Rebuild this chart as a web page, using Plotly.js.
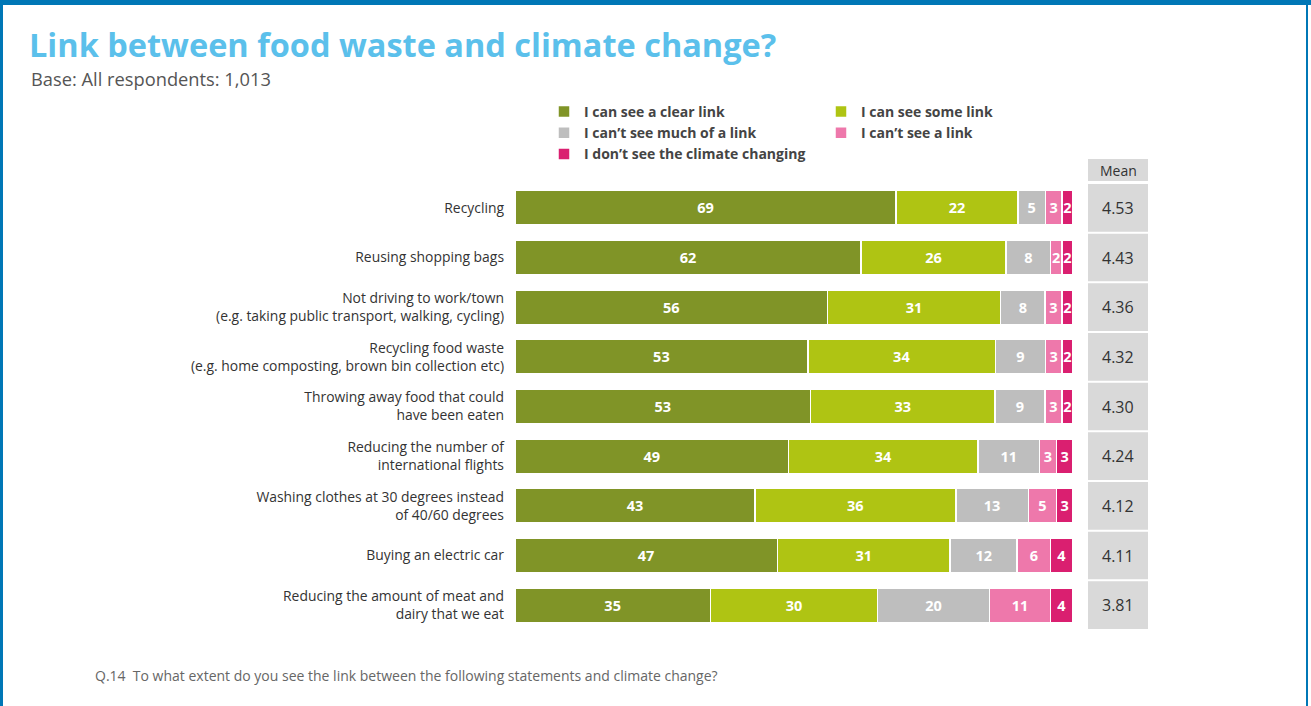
<!DOCTYPE html>
<html>
<head>
<meta charset="utf-8">
<script src="https://cdn.plot.ly/plotly-3.0.1.min.js"></script>
<style>
  html, body { margin: 0; padding: 0; background: #fff; }
  #chart { width: 1311px; height: 706px; }
  #frame { position: absolute; left: 0; top: 0; width: 1311px; height: 706px; box-sizing: border-box;
           border-top: 5px solid #0077B6; border-left: 3px solid #0077B6;
           pointer-events: none; }
  #frame-r { position: absolute; left: 1306px; top: 0; width: 2px; height: 706px; background: #0077B6; pointer-events:none; }
</style>
</head>
<body>
<div id="chart"></div>
<div id="frame"></div>
<div id="frame-r"></div>
<script>
const categories = [
  "Recycling",
  "Reusing shopping bags",
  "Not driving to work/town<br>(e.g. taking public transport, walking, cycling)",
  "Recycling food waste<br>(e.g. home composting, brown bin collection etc)",
  "Throwing away food that could<br>have been eaten",
  "Reducing the number of<br>international flights",
  "Washing clothes at 30 degrees instead<br>of 40/60 degrees",
  "Buying an electric car",
  "Reducing the amount of meat and<br>dairy that we eat"
];
const clearLink   = [69, 62, 56, 53, 53, 49, 43, 47, 35];
const someLink    = [22, 26, 31, 34, 33, 34, 36, 31, 30];
const notMuchLink = [5, 8, 8, 9, 9, 11, 13, 12, 20];
const noLink      = [3, 2, 3, 3, 3, 3, 5, 6, 11];
const noChange    = [2, 2, 2, 2, 2, 3, 3, 4, 4];
const means       = ["4.53", "4.43", "4.36", "4.32", "4.30", "4.24", "4.12", "4.11", "3.81"];
const seriesNames = ["I can see a clear link", "I can see some link", "I can\u2019t see much of a link", "I can\u2019t see a link", "I don\u2019t see the climate changing"];
const seriesColors = ["#809427", "#AFC413", "#BEBEBE", "#EE78AB", "#DA1F70"];
const seriesValues = [clearLink, someLink, notMuchLink, noLink, noChange];

const FONT = "Open Sans, Noto Sans, sans-serif";

const traces = seriesValues.map((vals, i) => ({
  type: "bar",
  orientation: "h",
  name: seriesNames[i],
  y: categories,
  x: vals,
  text: vals.map(String),
  textposition: "inside",
  insidetextanchor: "middle",
  textangle: 0,
  textfont: { color: "#ffffff", size: 14.5, family: FONT, weight: "bold" },
  marker: { color: seriesColors[i], line: { color: "#ffffff", width: 1.5 } },
  hoverinfo: "x+y+name",
  cliponaxis: false
}));

// plot geometry (pixels) used to convert to paper coords
const L = 515, R = 1073, T = 183, B = 630;
const W = R - L, H = B - T;
const px = x => (x - L) / W;
const py = y => (B - y) / H;

const shapes = [];
const annotations = [];

// Mean header box
shapes.push({ type: "rect", xref: "paper", yref: "paper", x0: px(1088), x1: px(1148), y0: py(181), y1: py(159),
  fillcolor: "#D9D9D9", line: { width: 0 }, layer: "below" });
annotations.push({ xref: "paper", yref: "paper", x: px(1118), y: py(170), text: "Mean", showarrow: false,
  font: { family: FONT, size: 14, color: "#333" }, xanchor: "center", yanchor: "middle" });

// Mean value boxes per category
categories.forEach((c, i) => {
  shapes.push({ type: "rect", xref: "paper", yref: "y", x0: px(1088), x1: px(1148), y0: i - 0.48, y1: i + 0.48,
    fillcolor: "#D9D9D9", line: { width: 0 }, layer: "below" });
  annotations.push({ xref: "paper", yref: "y", x: px(1118), y: c, text: means[i], showarrow: false,
    font: { family: FONT, size: 16, color: "#333" }, xanchor: "center", yanchor: "middle" });
});

// subtitle
annotations.push({ xref: "paper", yref: "paper", x: px(29), y: py(78), text: "Base: All respondents: 1,013",
  showarrow: false, xanchor: "left", yanchor: "middle", font: { family: FONT, size: 18.3, color: "#555" } });
// footnote
annotations.push({ xref: "paper", yref: "paper", x: px(93), y: py(675),
  text: "Q.14  To what extent do you see the link between the following statements and climate change?",
  showarrow: false, xanchor: "left", yanchor: "middle", font: { family: FONT, size: 14, color: "#666" } });

const layout = {
  width: 1311, height: 706,
  margin: { l: L, r: 1311 - R, t: T, b: 706 - B, pad: 0 },
  paper_bgcolor: "#ffffff", plot_bgcolor: "#ffffff",
  barmode: "stack",
  barnorm: "percent",
  bargap: 0.31,
  title: { text: "<b>Link between food waste and climate change?</b>", xref: "container", yref: "container",
    x: 29 / 1311, xanchor: "left", y: 1 - 46 / 706, yanchor: "middle",
    font: { family: FONT, size: 32.5, color: "#5BC0EB" } },
  xaxis: { range: [0, 100], visible: false, fixedrange: true },
  yaxis: { type: "category", autorange: "reversed", showgrid: false, zeroline: false, showline: false,
    ticks: "", ticklabelstandoff: 10,
    tickfont: { family: FONT, size: 13.9, color: "#333" } },
  showlegend: true,
  legend: { orientation: "h", x: px(544), xanchor: "left", y: py(96), yanchor: "top",
    entrywidth: 232, entrywidthmode: "pixels", traceorder: "normal",
    font: { family: FONT, size: 14, color: "#444", weight: "bold" }, bgcolor: "rgba(0,0,0,0)" },
  uniformtext: { minsize: 14.5, mode: "show" },
  shapes: shapes,
  annotations: annotations
};

Plotly.newPlot("chart", traces, layout, { displayModeBar: false, staticPlot: true });
</script>
</body>
</html>
